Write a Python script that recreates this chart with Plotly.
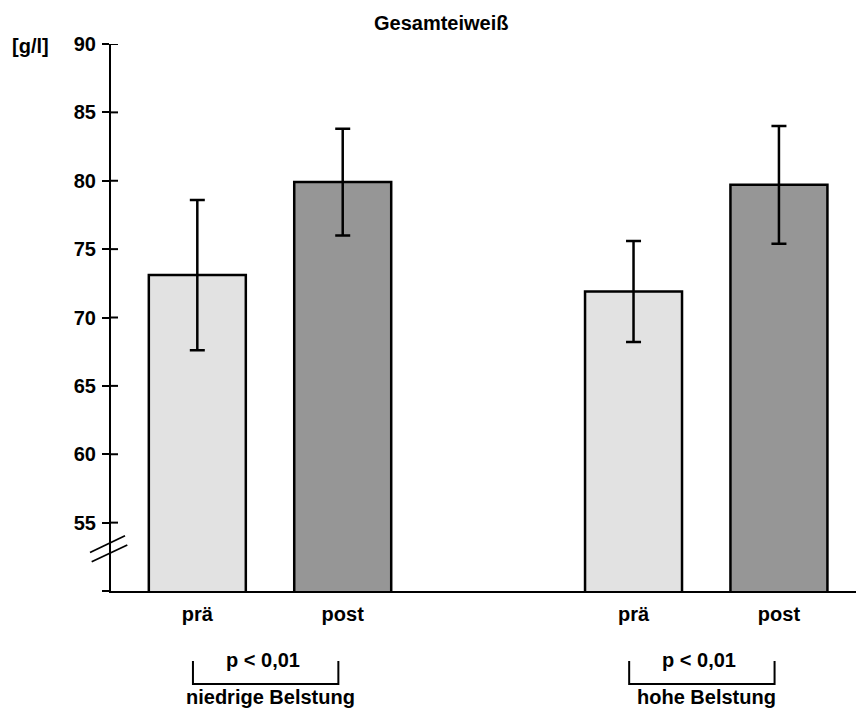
import plotly.graph_objects as go

# ---- data ----
groups = ["niedrige Belstung", "hohe Belstung"]
phases = ["prä", "post"]
pre_means = [73.1, 71.9]
pre_sd = [5.5, 3.7]
post_means = [79.9, 79.7]
post_sd = [3.9, 4.3]
p_labels = ["p < 0,01", "p < 0,01"]
y_ticks = [55, 60, 65, 70, 75, 80, 85, 90]
y_title = "[g/l]"
chart_title = "Gesamteiweiß"

FONT = "Liberation Sans, Arial, sans-serif"
W, H = 856, 710
L, R, T, B = 111, 0, 44, 119
PW, PH = W - L - R, H - T - B

# group positions on a linear x axis
group_base = [1, 4]
pre_x = [g for g in group_base]
post_x = [g + 1 for g in group_base]

fig = go.Figure()
err_style = dict(type="data", thickness=2.5, width=7.5, color="black")
fig.add_trace(go.Bar(x=pre_x, y=pre_means, width=0.667,
                     marker=dict(color="#e2e2e2", line=dict(color="black", width=2.5)),
                     error_y=dict(array=pre_sd, **err_style), name=phases[0]))
fig.add_trace(go.Bar(x=post_x, y=post_means, width=0.667,
                     marker=dict(color="#969696", line=dict(color="black", width=2.5)),
                     error_y=dict(array=post_sd, **err_style), name=phases[1]))

shapes = []
# inner halves of the y ticks
for v in y_ticks:
    shapes.append(dict(type="line", xref="paper", yref="y", x0=0, x1=7 / PW, y0=v, y1=v,
                       line=dict(color="black", width=2)))
# axis break marks
for (a, b) in [((-21, 52.82), (14, 54.04)), ((-19.3, 52.14), (16.3, 53.36))]:
    shapes.append(dict(type="line", xref="paper", yref="y",
                       x0=a[0] / PW, y0=a[1], x1=b[0] / PW, y1=b[1],
                       line=dict(color="black", width=1.8)))

def py(px):
    return (H - B - px) / PH

annotations = [
    dict(text=f"<b>{chart_title}</b>", xref="paper", yref="paper",
         x=(441 - L) / PW, y=py(23), showarrow=False, font=dict(size=20, family=FONT, color="black"),
         xanchor="center", yanchor="middle"),
    dict(text=f"<b>{y_title}</b>", xref="paper", yref="paper",
         x=(30 - L) / PW, y=py(46), showarrow=False, font=dict(size=20, family=FONT, color="black"),
         xanchor="center", yanchor="middle"),
]
for i, g in enumerate(groups):
    x0, x1 = pre_x[i], post_x[i]
    mid = (x0 + x1) / 2
    annotations.append(dict(text=f"<b>{p_labels[i]}</b>", xref="x", yref="paper", x=mid - 0.05, y=py(660),
                            showarrow=False, font=dict(size=20, family=FONT, color="black"),
                            xanchor="center", yanchor="middle"))
    annotations.append(dict(text=f"<b>{g}</b>", xref="x", yref="paper", x=mid, y=py(697),
                            showarrow=False, font=dict(size=20, family=FONT, color="black"),
                            xanchor="center", yanchor="middle"))
    shapes.append(dict(type="path", xref="x", yref="paper",
                       path=f"M {x0 - 0.03},{py(661)} L {x0 - 0.03},{py(684)} L {x1 - 0.03},{py(684)} L {x1 - 0.03},{py(661)}",
                       line=dict(color="black", width=2)))

fig.update_layout(
    width=W, height=H, margin=dict(l=L, r=R, t=T, b=B, pad=0),
    paper_bgcolor="white", plot_bgcolor="white",
    showlegend=False, barmode="overlay",
    font=dict(family=FONT, color="black", size=20),
    xaxis=dict(range=[0.4064, 5.53], showgrid=False, zeroline=False,
               showline=True, linecolor="black", linewidth=2,
               tickvals=pre_x + post_x,
               ticktext=[f"<b>{phases[0]}</b>"] * 2 + [f"<b>{phases[1]}</b>"] * 2,
               ticks="", ticklabelstandoff=4, tickfont=dict(size=20, family=FONT)),
    yaxis=dict(range=[50, 90], showgrid=False, zeroline=False,
               showline=True, linecolor="black", linewidth=2,
               tickvals=[50] + y_ticks, ticktext=[""] + [f"<b>{v}</b>" for v in y_ticks],
               ticks="outside", ticklen=7, tickwidth=2, tickcolor="black",
               ticklabelstandoff=2, tickfont=dict(size=20, family=FONT)),
    shapes=shapes, annotations=annotations,
)

fig.write_html("out.html")
